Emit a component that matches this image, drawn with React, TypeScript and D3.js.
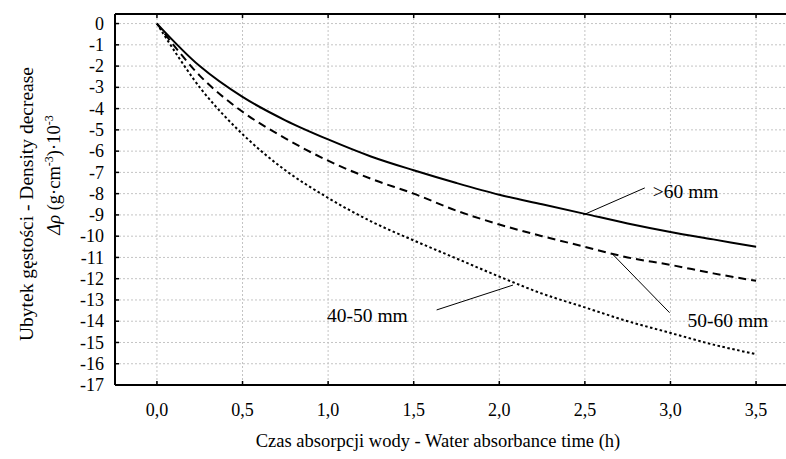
import React from 'react';
import * as d3 from 'd3';

// czas absorpcji (h)
const times = [0, 0.25, 0.5, 0.75, 1.0, 1.25, 1.5, 1.75, 2.0, 2.25, 2.5, 2.75, 3.0, 3.25, 3.5];

// ubytek gęstości dla grubości
const over60 = [0, -2.0, -3.45, -4.55, -5.45, -6.25, -6.9, -7.5, -8.05, -8.5, -8.95, -9.4, -9.8, -10.15, -10.5];
const mm5060 = [0, -2.45, -4.15, -5.4, -6.45, -7.3, -8.0, -8.8, -9.45, -10.0, -10.5, -11.0, -11.35, -11.75, -12.1];
const mm4050 = [0, -3.0, -5.2, -6.9, -8.2, -9.3, -10.2, -11.05, -11.9, -12.7, -13.35, -14.0, -14.55, -15.1, -15.55];

const xTicks = [0, 0.5, 1.0, 1.5, 2.0, 2.5, 3.0, 3.5];
const yTicks = d3.range(0, -18, -1);

const series = [
  { name: '>60 mm', values: over60, dash: null },
  { name: '50-60 mm', values: mm5060, dash: '8,5' },
  { name: '40-50 mm', values: mm4050, dash: '2.5,2.5' },
];

// podpisy: tekst, pozycja tekstu, punkt na krzywej, koniec linii
const labels = [
  { text: '>60 mm', tx: 2.897, ty: -8.2, from: [2.49, -9.0], to: [2.85, -7.73] },
  { text: '50-60 mm', tx: 3.1, ty: -14.27, from: [2.66, -10.83], to: [2.995, -13.6] },
  { text: '40-50 mm', tx: 0.994, ty: -14.03, from: [2.08, -12.3], to: [1.634, -13.47] },
];

const W = 786;
const H = 459;
const font = 'Liberation Serif, DejaVu Serif, Times New Roman, serif';

export default function App() {
  const x = d3.scaleLinear().domain([-0.245, 3.71]).range([115, 792]);
  const y = d3.scaleLinear().domain([-17, 0.45]).range([385, 14]);
  const [x0, x1] = x.range();
  const [yb, yt] = y.range();

  const line = (vals: number[]) =>
    d3.line<number>()
      .x((_, i) => x(times[i]))
      .y(d => y(d))
      .curve(d3.curveCatmullRom.alpha(0.5))(vals) as string;

  const fmt = (v: number) => v.toFixed(1).replace('.', ',');

  return (
    <div style={{ position: 'absolute', left: 0, top: 0 }}>
      <svg width={W} height={H} style={{ display: 'block' }}>
        <rect width={W} height={H} fill="#fff" />

        {/* siatka */}
        <g stroke="#c4c4c4" strokeWidth={1} strokeDasharray="2,2">
          {yTicks.map(t => (
            <line key={'gy' + t} x1={x0} x2={x1} y1={y(t)} y2={y(t)} />
          ))}
          {xTicks.map(t => (
            <line key={'gx' + t} x1={x(t)} x2={x(t)} y1={yt} y2={yb} />
          ))}
        </g>

        {/* krzywe */}
        {series.map(s => (
          <path
            key={s.name}
            d={line(s.values)}
            fill="none"
            stroke="#000"
            strokeWidth={2}
            strokeDasharray={s.dash ?? undefined}
          />
        ))}

        {/* ramka */}
        <g stroke="#000" strokeWidth={2} fill="none">
          <line x1={x0} x2={x1} y1={yt} y2={yt} />
          <line x1={x0} x2={x1} y1={yb} y2={yb} />
          <line x1={x0} x2={x0} y1={yt} y2={yb} />
          {yTicks.map(t => (
            <line key={'ty' + t} x1={x0} x2={x0 + 4} y1={y(t)} y2={y(t)} strokeWidth={1.5} />
          ))}
          {xTicks.map(t => (
            <g key={'tx' + t}>
              <line x1={x(t)} x2={x(t)} y1={yb} y2={yb - 4} strokeWidth={1.5} />
              <line x1={x(t)} x2={x(t)} y1={yt} y2={yt + 4} strokeWidth={1.5} />
            </g>
          ))}
        </g>

        <g fontFamily={font} fill="#000">
          {/* opisy osi */}
          <g fontSize={18}>
            {yTicks.map(t => (
              <text key={'ly' + t} x={104} y={y(t)} dy="0.34em" textAnchor="end">
                {t}
              </text>
            ))}
            {xTicks.map(t => (
              <text key={'lx' + t} x={x(t)} y={416} textAnchor="middle">
                {fmt(t)}
              </text>
            ))}
          </g>

          <text x={438} y={447} textAnchor="middle" fontSize={18.5}>
            Czas absorpcji wody - Water absorbance time (h)
          </text>

          <text transform="translate(33,204) rotate(-90)" textAnchor="middle" fontSize={19.5}>
            Ubytek gęstości - Density decrease
          </text>
          <text transform="translate(60,175) rotate(-90)" textAnchor="middle" fontSize={18.5}>
            <tspan fontStyle="italic">Δρ</tspan>
            <tspan> (g·cm</tspan>
            <tspan dy="-7" fontSize={12}>-3</tspan>
            <tspan dy="7">)·10</tspan>
            <tspan dy="-7" fontSize={12}>-3</tspan>
          </text>

          {/* podpisy krzywych */}
          {labels.map(l => (
            <g key={l.text}>
              <line
                x1={x(l.from[0])}
                y1={y(l.from[1])}
                x2={x(l.to[0])}
                y2={y(l.to[1])}
                stroke="#000"
                strokeWidth={1}
              />
              <text x={x(l.tx)} y={y(l.ty)} fontSize={19.5}>
                {l.text}
              </text>
            </g>
          ))}
        </g>
      </svg>
    </div>
  );
}
